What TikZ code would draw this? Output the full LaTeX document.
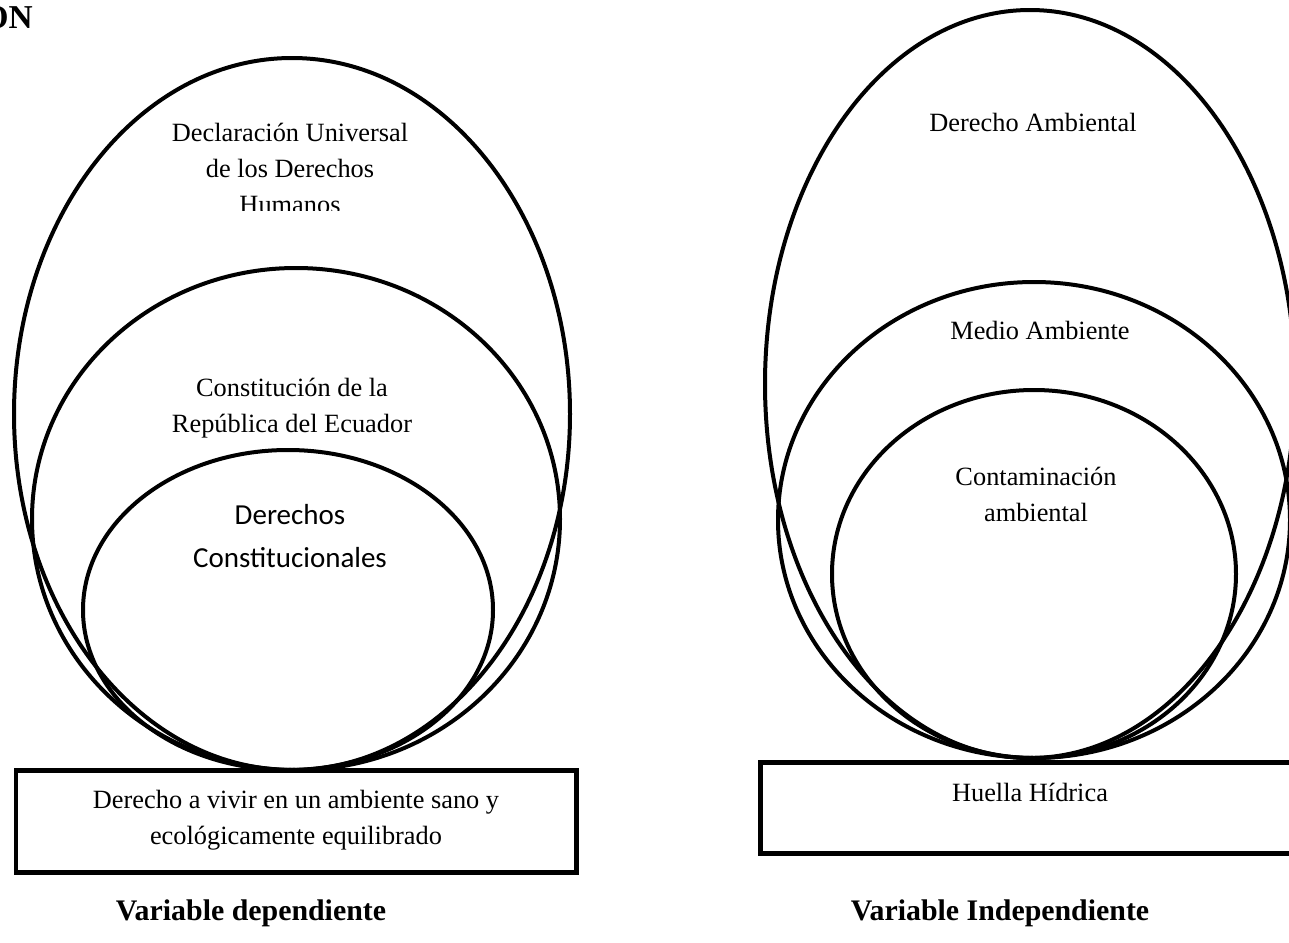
\documentclass[tikz,border=0pt]{standalone}
\usepackage{fontspec}
\setmainfont{Liberation Serif}
\newfontfamily\calibri{Carlito}
\usetikzlibrary{math}
\tikzstyle{oval} = [line width=0.08cm]
\tikzstyle{frame} = [line width=0.1cm]
\tikzstyle{txt} = [align=center, inner sep=0pt, font=\fontsize{15}{20.5}\selectfont]
\tikzstyle{sanstxt} = [align=center, inner sep=0pt, font=\calibri\fontsize{16.5}{24.5}\selectfont]
\tikzstyle{vartitle} = [inner sep=0pt, font=\fontsize{17}{20}\selectfont\bfseries]

\begin{document}
\begin{tikzpicture}[x=0.02cm, y=-0.02cm]

  \tikzmath{\W = 1289; \H = 943;}
  \useasboundingbox (0,0) rectangle (\W,\H);

  % % comment out
  % \draw[step=50,gray,very thin] (0,0) grid (\W,\H);

  \node[vartitle, font=\fontsize{19}{22}\selectfont\bfseries, anchor=base east] (cion) at (33,29) {ON};

  % Fig 1
  \draw[oval] (292,414) ellipse [x radius=278, y radius=356];
  \draw[oval] (296,519) ellipse [x radius=264, y radius=251];
  \draw[oval] (288,610) ellipse [x radius=205, y radius=160];
  \draw[frame] (16,770) rectangle (576,872);

  \begin{scope}
    \clip (0,0) rectangle (\W,210);
    \node[txt] (dudh) at (290,168) {Declaración Universal\\de los Derechos\\Humanos};
  \end{scope}
  \node[txt] (cre) at (292,408) {Constitución de la\\República del Ecuador};
  \node[sanstxt] (dc) at (290,536) {Derechos\\Constitucionales};
  \node[txt] (dvas) at (296,820) {Derecho a vivir en un ambiente sano y\\ecológicamente equilibrado};
  \node[vartitle] (vdep) at (251,913) {Variable dependiente};

  % Fig 2
  \draw[oval] (1030,384) ellipse [x radius=265, y radius=374];
  \draw[oval] (1034,520) ellipse [x radius=256, y radius=238];
  \draw[oval] (1034,574) ellipse [x radius=202, y radius=184];
  \draw[frame] (760,762) rectangle (1300,853);

  \node[txt] (da) at (1033,122) {Derecho Ambiental};
  \node[txt] (ma) at (1040,330) {Medio Ambiente};
  \node[txt] (ca) at (1036,494) {Contaminación\\ambiental};
  \node[txt] (hh) at (1030,792) {Huella Hídrica};
  \node[vartitle] (vind) at (1000,913) {Variable Independiente};

\end{tikzpicture}
\end{document}
